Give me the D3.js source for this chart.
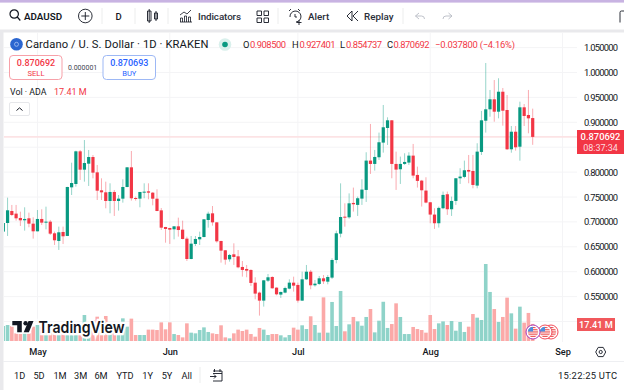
<!DOCTYPE html>
<html>
<head>
<meta charset="utf-8">
<script src="https://d3js.org/d3.v7.min.js"></script>
<style>
html, body { margin: 0; padding: 0; background: #fff; overflow: hidden; }
svg { display: block; }
text { font-family: Roboto, "Noto Sans", sans-serif; }
</style>
</head>
<body>
<svg id="chart" width="624" height="390"></svg>
<script>
const firstDay = new Date(2024, 3, 23); // first candle on the chart
const monthTicks = [new Date(2024, 4, 1), new Date(2024, 5, 1), new Date(2024, 6, 1), new Date(2024, 7, 1), new Date(2024, 8, 1)];
const priceTicks = [1.05, 1.0, 0.95, 0.9, 0.8, 0.75, 0.7, 0.65, 0.6, 0.55];
const priceGrid = [1.05, 1.0, 0.95, 0.9, 0.85, 0.8, 0.75, 0.7, 0.65, 0.6, 0.55, 0.5];
const rangeButtons = ["1D", "5D", "1M", "3M", "6M", "YTD", "1Y", "5Y", "All"];
const rangeCenters = [19.7, 39, 60, 80.7, 101, 125, 147.7, 167, 186.7];

const opens = [.6805,.6978,.7219,.7166,.7079,.7032,.7072,.6965,.6811,.7059,.6985,.7005,.6771,.6617,.6798,.6718,.7694,.7761,.8417,.8049,.8169,.8303,.7995,.7634,.7594,.7420,.7601,.7420,.7467,.7701,.8096,.7480,.7467,.7594,.7614,
  .7587,.7466,.7232,.6898,.6878,.6851,.6911,.6844,.6664,.6255,.6557,.6650,.6697,.7038,.7172,.6991,.6617,.6430,.6249,.6349,.6309,.6095,.6055,.6035,.5780,.5580,.5419,.5820,.5894,.5680,.5540,.5580,.5660,.5780,.5734,.5419,.5847,.6000,.5727,.5754,.5867,.5800,.5881,.6235,.6764,.7105,.7092,
  .7381,.7341,.7468,.7642,.8231,.8164,.8298,.8592,.8886,.9040,.8164,.8057,.8164,.8191,.8331,.7943,.7829,.7629,.7394,.7147,.6973,.7274,.7555,.7254,.7421,.7876,.7903,.8043,.8023,.7729,.8405,
  .9032,.9261,.9462,.9213,.9614,.9247,.8458,.8811,.8510,.9301,.9147,.908500];
const highs = [.6990,.7487,.7340,.7340,.7206,.7293,.7186,.7092,.7239,.7253,.7306,.7039,.6805,.6905,.6905,.7705,.8189,.8430,.8444,.8644,.8444,.8343,.8143,.7875,.7808,.7775,.7641,.7540,.7855,.8100,.8424,.7507,.7601,.7775,.7775,
  .7600,.7654,.7279,.6900,.6880,.6915,.7085,.7025,.6704,.6717,.6717,.6804,.7055,.7205,.7319,.6995,.6620,.6435,.6356,.6570,.6436,.6215,.6135,.6048,.5888,.5600,.5834,.5954,.5908,.5685,.5600,.5700,.5847,.5900,.5780,.6000,.6135,.6035,.5834,.5914,.5934,.5934,.6269,.6824,.7774,.7373,.7573,
  .7689,.7508,.7856,.8398,.8967,.8445,.8793,.9348,.9100,.9045,.8411,.8311,.8378,.8398,.8565,.8110,.7843,.7896,.7400,.7274,.7308,.7609,.7609,.7508,.7880,.8077,.8231,.8344,.8344,.8579,.9228,
  1.0191,.9649,.9849,.9884,.9689,.9548,.8926,.8926,.9414,.9367,.9649,.927401];
const lows = [.6780,.6718,.7119,.7025,.6918,.6825,.6892,.6664,.6810,.6938,.6851,.6738,.6537,.6437,.6557,.6715,.7540,.7708,.7842,.7808,.7721,.7875,.7440,.7440,.7273,.7173,.7119,.7226,.7387,.7695,.7427,.7427,.7293,.7474,.7454,
  .7333,.7215,.6838,.6583,.6557,.6650,.6704,.6650,.6215,.6250,.6516,.6536,.6690,.6884,.6924,.6583,.6182,.6142,.6202,.6135,.6068,.5901,.5888,.5714,.5446,.5118,.5299,.5794,.5660,.5526,.5473,.5566,.5647,.5600,.5379,.5413,.5834,.5647,.5700,.5734,.5754,.5747,.5854,.6168,.6690,.6904,.7065,
  .7207,.7120,.7341,.7401,.7963,.8030,.8244,.8391,.8545,.7876,.7642,.7762,.8144,.8144,.7876,.7689,.7308,.7374,.6973,.6859,.6886,.7254,.7140,.7120,.7341,.7762,.7876,.7776,.7675,.7675,.8344,
  .8793,.9112,.9012,.9080,.8932,.8444,.8390,.8430,.8229,.8926,.8779,.854737];
const closes = [.6978,.7233,.7139,.7072,.7032,.7059,.6965,.6811,.7059,.6985,.7005,.6764,.6631,.6791,.6711,.7701,.7781,.8417,.8049,.8183,.8303,.7989,.7627,.7594,.7420,.7601,.7420,.7467,.7701,.8096,.7474,.7460,.7601,.7607,.7587,
  .7466,.7219,.6884,.6858,.6844,.6911,.6837,.6657,.6255,.6563,.6657,.6697,.7052,.7165,.6991,.6610,.6423,.6242,.6336,.6296,.6088,.6035,.6021,.5774,.5560,.5419,.5827,.5888,.5667,.5546,.5593,.5673,.5780,.5720,.5419,.5847,.6000,.5727,.5760,.5867,.5807,.5894,.6235,.6771,.7098,.7092,.7373,
  .7354,.7475,.7649,.8231,.8164,.8304,.8599,.8900,.9040,.8164,.8050,.8164,.8204,.8331,.7930,.7823,.7635,.7388,.7147,.6973,.7281,.7542,.7254,.7421,.7876,.7910,.8037,.8010,.7742,.8411,.9040,
  .9261,.9462,.9213,.9614,.9233,.8458,.8811,.8498,.9301,.9127,.9080,.870692];
const volumes = [15.3,16.3,15.3,7.8,7.1,7.8,7.8,14.6,16.3,14.6,7.8,8.5,8.5,7.1,7.1,7.1,7.1,7.1,14.6,26.5,7.8,21.4,24.8,19.7,25.5,18,18,8.5,23.1,14.6,22.8,6.1,
  6.1,6.1,11.6,11.6,11.2,19,11.9,19,7.1,6.1,3.7,18,8.5,7.8,11.2,13.9,9.2,7.8,7.1,16,3.7,2.7,7.8,11.6,10.2,11.6,7.1,4.4,13.3,11.6,6.1,7.1,
  7.1,5.8,3.7,6.1,13.6,11.6,16,12.2,25.2,16.3,8.5,44.5,8.5,39.8,15.3,51,9.9,17,24.5,20,15.6,24.5,32.6,8.8,20.7,40,13.3,17.3,38.4,24.5,7.1,7.1,
  14.3,12.2,11.2,8.5,26.5,12.2,18,20,16.3,20.4,10.5,19.4,9.2,14.6,27.5,23.8,21.4,78.5,50,32.6,19.4,24.5,44.2,28.2,12.6,35,18.7,28.6,17.41];

const green = "#089981", red = "#f23645";
const volGreen = "#8fd3c9", volRed = "#fba9a8";
const ink = "#131722";

const days = closes.map((c, i) => d3.timeDay.offset(firstDay, i));
const x = d3.scaleTime().domain([firstDay, d3.timeDay.offset(firstDay, 124)]).range([3.3, 532.7]);
const y = d3.scaleLinear().domain([1, 0.5]).range([72.5, 321.5]);
const yVol = d3.scaleLinear().domain([0, 78.5]).range([341, 264]);
const lastClose = closes[closes.length - 1];

const svg = d3.select("#chart");

svg.append("defs").append("clipPath").attr("id", "plot")
    .append("rect").attr("x", 4).attr("y", 33).attr("width", 573).attr("height", 309);

// page frame
svg.append("rect").attr("width", 624).attr("height", 390).attr("fill", "#fff");
svg.append("rect").attr("width", 624).attr("height", 2.6).attr("fill", "#c8b3e2");
svg.append("rect").attr("y", 29.5).attr("width", 624).attr("height", 3).attr("fill", "#e9e9ec");
svg.append("rect").attr("y", 30).attr("width", 3.5).attr("height", 360).attr("fill", "#e9e9ec");
svg.append("line").attr("x1", 3).attr("x2", 624).attr("y1", 361.5).attr("y2", 361.5).attr("stroke", "#eeeff2");

// grid
const grid = svg.append("g").attr("stroke", "#f4f4f6");
grid.selectAll("line.h").data(priceGrid).join("line").attr("class", "h")
    .attr("x1", 4).attr("x2", 577).attr("y1", d => y(d)).attr("y2", d => y(d));
grid.selectAll("line.v").data(monthTicks).join("line").attr("class", "v")
    .attr("x1", d => x(d)).attr("x2", d => x(d)).attr("y1", 33).attr("y2", 342);

// last price line
svg.append("line").attr("x1", 4).attr("x2", 577)
    .attr("y1", y(lastClose)).attr("y2", y(lastClose))
    .attr("stroke", "#fce3e5").attr("stroke-width", 1.6);

const plot = svg.append("g").attr("clip-path", "url(#plot)");

// volume
plot.append("g").selectAll("rect").data(volumes).join("rect")
    .attr("x", (d, i) => x(days[i]) - 1.8)
    .attr("width", 3.6)
    .attr("y", d => yVol(d))
    .attr("height", d => yVol(0) - yVol(d))
    .attr("fill", (d, i) => closes[i] >= opens[i] ? volGreen : volRed);

// watermark
const mark = svg.append("g");
mark.append("text").attr("x", 38.5).attr("y", 332.5)
    .attr("font-size", 16.5).attr("font-weight", 600)
    .style("font-family", "Inter, Roboto, sans-serif")
    .attr("textLength", 86).attr("lengthAdjust", "spacingAndGlyphs")
    .attr("fill", ink).attr("stroke", "#fff").attr("stroke-width", 4.5).attr("paint-order", "stroke")
    .text("TradingView");
mark.append("path").attr("d", "M12.3 321h9.5v11.2h-4.6v-7h-4.9z M28.5 321h5l-4.6 11.2h-5.2z")
    .attr("fill", ink).attr("stroke", "#fff").attr("stroke-width", 3).attr("paint-order", "stroke");
mark.append("circle").attr("cx", 25.6).attr("cy", 323.2).attr("r", 2.2).attr("fill", ink);

// candles
const candles = plot.append("g").selectAll("g").data(closes).join("g");
candles.append("line")
    .attr("x1", (d, i) => x(days[i])).attr("x2", (d, i) => x(days[i]))
    .attr("y1", (d, i) => y(highs[i])).attr("y2", (d, i) => y(lows[i]))
    .attr("stroke", (d, i) => closes[i] >= opens[i] ? green : red)
    .attr("stroke-opacity", 0.42)
    .attr("stroke-width", 1);
candles.append("rect")
    .attr("x", (d, i) => x(days[i]) - 1.6)
    .attr("width", 3.2)
    .attr("y", (d, i) => y(Math.max(opens[i], closes[i])))
    .attr("height", (d, i) => Math.max(1, Math.abs(y(opens[i]) - y(closes[i]))))
    .attr("fill", (d, i) => closes[i] >= opens[i] ? green : red);

// earnings flags sitting on the last volume bar
const flagCenters = [533, 545, 551];
flagCenters.slice().reverse().forEach((cx, i) => {
    const id = "flag" + i;
    svg.select("defs").append("clipPath").attr("id", id)
        .append("circle").attr("cx", cx).attr("cy", 332).attr("r", 5.2);
    const f = svg.append("g");
    f.append("circle").attr("cx", cx).attr("cy", 332).attr("r", 7).attr("fill", "#fff")
        .attr("stroke", i === 2 ? "#9c27b0" : "#f23645").attr("stroke-width", 0.9);
    const c = f.append("g").attr("clip-path", `url(#${id})`);
    d3.range(0, 5).forEach(k => {
        c.append("rect").attr("x", cx - 6).attr("y", 327 + k * 2.2).attr("width", 12).attr("height", 1.1).attr("fill", "#ec4b4b");
    });
    c.append("rect").attr("x", cx - 6).attr("y", 326).attr("width", 6).attr("height", 5.5).attr("fill", "#4a8fe0");
});

// axes
const yAxis = svg.append("g").attr("transform", "translate(577,0)")
    .call(d3.axisRight(y).tickValues(priceTicks).tickFormat(d3.format(".6f")).tickSize(0).tickPadding(7));
yAxis.select(".domain").remove();
yAxis.selectAll("text").attr("font-size", 9.4).attr("fill", ink).style("font-family", "Roboto, sans-serif")
    .attr("textLength", 34);

const xAxis = svg.append("g").attr("transform", "translate(0,342)")
    .call(d3.axisBottom(x).tickValues(monthTicks).tickFormat(d3.timeFormat("%b")).tickSize(0).tickPadding(6));
xAxis.select(".domain").remove();
xAxis.selectAll("text").attr("font-size", 9.2).attr("font-weight", 500).attr("fill", ink).style("font-family", "Roboto, sans-serif");

// right side labels
svg.append("rect").attr("x", 577).attr("y", 130).attr("width", 47).attr("height", 24).attr("fill", "#f23645");
svg.append("text").attr("x", 600.5).attr("y", 140).attr("text-anchor", "middle").attr("font-size", 9.4).attr("font-weight", 500).attr("fill", "#fff").text(d3.format(".6f")(lastClose));
svg.append("text").attr("x", 600.5).attr("y", 150.5).attr("text-anchor", "middle").attr("font-size", 9).attr("fill", "#fddde0").text("08:37:34");
svg.append("rect").attr("x", 577).attr("y", 318).attr("width", 38).attr("height", 13).attr("fill", "#f1585c");
svg.append("text").attr("x", 596).attr("y", 328).attr("text-anchor", "middle").attr("font-size", 9.2).attr("font-weight", 500).attr("fill", "#fff").text("17.41 M");

// toolbar
const toolbar = svg.append("g").attr("fill", ink).attr("font-size", 10);
const icon = (g, d, w) => g.append("path").attr("d", d).attr("fill", "none").attr("stroke", ink).attr("stroke-width", w || 1);
icon(toolbar, "M10 14a4.2 4.2 0 1 0 8.4 0a4.2 4.2 0 1 0 -8.4 0 M17.3 17l3 3.5", 1.2);
toolbar.append("text").attr("x", 24).attr("y", 20).attr("font-weight", 600).attr("font-size", 9.8).text("ADAUSD");
icon(toolbar, "M78.5 16a6.8 6.8 0 1 0 13.6 0a6.8 6.8 0 1 0 -13.6 0 M85.3 12v8 M81.3 16h8", 0.9);
toolbar.append("text").attr("x", 115.5).attr("y", 20).attr("font-weight", 500).attr("font-size", 9.5).text("D");
icon(toolbar, "M147.5 11h3.5v10h-3.5z M149.2 9v14 M154.5 13h3v6h-3z M156 11v10", 0.9);
icon(toolbar, "M180 22h12 M180.5 22v-4h2v4 M184.5 22v-6h2v6 M188.5 22v-5h2v5 M180 15l4 -3l3 2l4 -4", 0.8);
toolbar.append("text").attr("x", 198).attr("y", 20).attr("font-weight", 500).attr("font-size", 9.8).attr("fill", "#2a2e39").attr("textLength", 43).text("Indicators");
icon(toolbar, "M257 11h4.5v4.5h-4.5z M264 11h4.5v4.5h-4.5z M257 18h4.5v4.5h-4.5z M264 18h4.5v4.5h-4.5z", 0.9);
icon(toolbar, "M290 17a5.5 5.5 0 1 1 6 5 M295 14v3h2 M289 11l2 -2 M300 11l-2 -2 M299 20v5 M296.5 22.5h5", 0.9);
toolbar.append("text").attr("x", 308).attr("y", 20).attr("font-weight", 500).attr("font-size", 9.8).attr("fill", "#2a2e39").text("Alert");
icon(toolbar, "M352 11l-5 5l5 5z M358 11l-5 5l5 5", 0.9);
toolbar.append("text").attr("x", 364).attr("y", 20).attr("font-weight", 500).attr("font-size", 9.8).attr("fill", "#2a2e39").text("Replay");
const soft = toolbar.append("g").attr("fill", "none").attr("stroke", "#b8bbc4").attr("stroke-width", 0.9);
soft.append("path").attr("d", "M419 13l-3.5 3l3.5 3 M415.5 16h6a3 3 0 0 1 3 3");
soft.append("path").attr("d", "M448.5 13l3.5 3l-3.5 3 M452 16h-6a3 3 0 0 0 -3 3");
icon(toolbar, "M624 11h-2.5a1.5 1.5 0 0 0 -1.5 1.5v10", 0.9);
[102, 135, 168, 278, 403].forEach(sx => {
    svg.append("line").attr("x1", sx).attr("x2", sx).attr("y1", 8).attr("y2", 24).attr("stroke", "#eceded");
});

// legend row
const legend = svg.append("g");
legend.append("circle").attr("cx", 16.5).attr("cy", 44.3).attr("r", 6.3).attr("fill", "#2c66d0");
legend.append("circle").attr("cx", 16.5).attr("cy", 44.3).attr("r", 2).attr("fill", "none").attr("stroke", "#a9c3f3").attr("stroke-width", 0.8);
legend.append("text").attr("x", 25.5).attr("y", 48).attr("font-size", 11.2).attr("fill", ink).attr("textLength", 183).text("Cardano / U. S. Dollar · 1D · KRAKEN");
legend.append("circle").attr("cx", 225).attr("cy", 44.5).attr("r", 6.3).attr("fill", "#d9f0ec");
legend.append("circle").attr("cx", 225).attr("cy", 44.5).attr("r", 2.8).attr("fill", green);

const ohlcRow = [
    ["O", 243, d3.format(".6f")(opens[124]), 250],
    ["H", 292, d3.format(".6f")(highs[124]), 299.5],
    ["L", 340, d3.format(".6f")(lows[124]), 346],
    ["C", 387, d3.format(".6f")(lastClose), 393.5]
];
ohlcRow.forEach(r => {
    legend.append("text").attr("x", r[1]).attr("y", 47.5).attr("font-size", 9.4).attr("fill", ink).text(r[0]);
    legend.append("text").attr("x", r[3]).attr("y", 47.5).attr("font-size", 9.4).attr("fill", red).attr("textLength", 36).text(r[2]);
});
legend.append("text").attr("x", 435).attr("y", 47.5).attr("font-size", 9.4).attr("fill", red).attr("textLength", 80).text("−0.037800 (−4.16%)");

// sell and buy buttons
legend.append("rect").attr("x", 9.5).attr("y", 55.5).attr("width", 52.5).attr("height", 24).attr("rx", 3.5).attr("fill", "#fff").attr("stroke", "#f7a1a9");
legend.append("text").attr("x", 36).attr("y", 65.5).attr("text-anchor", "middle").attr("font-size", 9).attr("font-weight", 500).attr("fill", red).text("0.870692");
legend.append("text").attr("x", 36).attr("y", 75.5).attr("text-anchor", "middle").attr("font-size", 7.6).attr("fill", red).text("SELL");
legend.append("text").attr("x", 82.6).attr("y", 70.3).attr("text-anchor", "middle").attr("font-size", 7).attr("fill", "#434651").text("0.000001");
legend.append("rect").attr("x", 103).attr("y", 55.5).attr("width", 52.5).attr("height", 24).attr("rx", 3.5).attr("fill", "#fff").attr("stroke", "#9db8f5");
legend.append("text").attr("x", 129.3).attr("y", 65.5).attr("text-anchor", "middle").attr("font-size", 9).attr("font-weight", 500).attr("fill", "#2962ff").text("0.870693");
legend.append("text").attr("x", 129.3).attr("y", 75.5).attr("text-anchor", "middle").attr("font-size", 7.6).attr("fill", "#2962ff").text("BUY");

legend.append("text").attr("x", 10).attr("y", 94.5).attr("font-size", 8.8).attr("fill", ink).text("Vol · ADA");
legend.append("text").attr("x", 54).attr("y", 94.5).attr("font-size", 9).attr("fill", red).text("17.41 M");
legend.append("rect").attr("x", 9.5).attr("y", 102.5).attr("width", 20).attr("height", 13).attr("rx", 1.5).attr("fill", "#fff").attr("stroke", "#e6e7ea");
legend.append("path").attr("d", "M16.5 110.5l3 -2.6l3 2.6").attr("fill", "none").attr("stroke", ink).attr("stroke-width", 1);

// bottom bar
const bottom = svg.append("g");
bottom.selectAll("text").data(rangeButtons).join("text")
    .attr("x", (d, i) => rangeCenters[i]).attr("y", 379)
    .attr("text-anchor", "middle").attr("font-size", 9.2).attr("fill", ink)
    .text(d => d);
bottom.append("line").attr("x1", 200).attr("x2", 200).attr("y1", 367).attr("y2", 383).attr("stroke", "#eceded");
icon(bottom, "M213 371h9v10h-9 M210 376.5h6 M214 374.5l2 2l-2 2 M214.5 369v3 M220 369v3 M213 373.5h9", 0.9);
bottom.append("text").attr("x", 617).attr("y", 379).attr("text-anchor", "end").attr("font-size", 9.4).attr("fill", ink).attr("textLength", 59).text("15:22:25 UTC");
bottom.append("path").attr("d", "M595.7 352l2.5 -4.6h5l2.5 4.6l-2.5 4.6h-5z").attr("fill", "none").attr("stroke", ink).attr("stroke-width", 0.9);
bottom.append("circle").attr("cx", 600.7).attr("cy", 352).attr("r", 1.6).attr("fill", "none").attr("stroke", ink).attr("stroke-width", 0.9);
</script>
</body>
</html>
